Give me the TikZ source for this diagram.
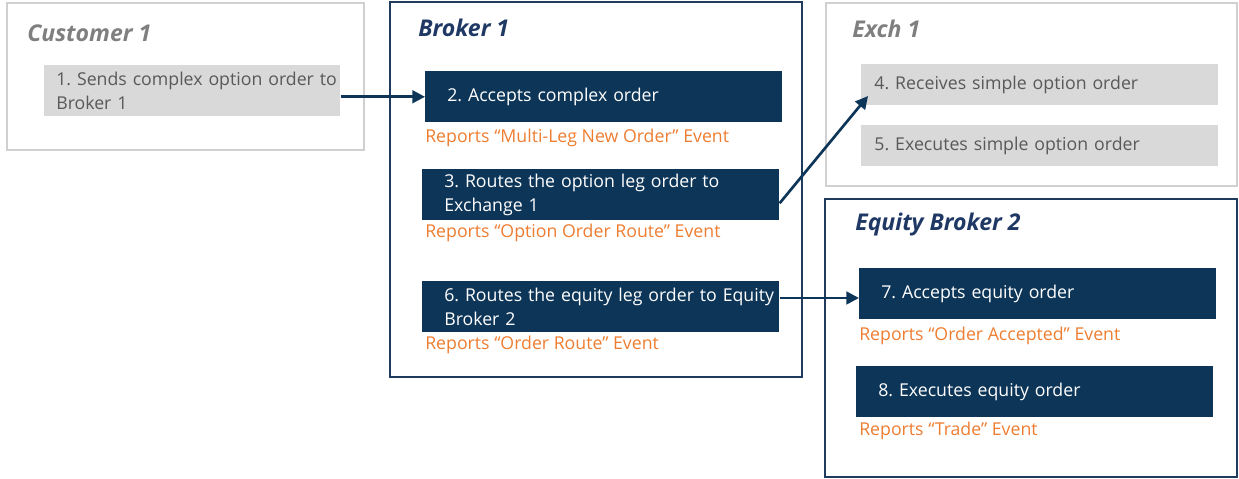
\documentclass[tikz,border=0pt]{standalone}
\usepackage{fontspec}
\setmainfont{Open Sans}
\usepackage{tikz}
\usetikzlibrary{arrows.meta}
\definecolor{navyfill}{HTML}{0D3558}
\definecolor{navyline}{HTML}{1F3C5E}
\definecolor{navytitle}{HTML}{1F3864}
\definecolor{boxgrey}{HTML}{D9D9D9}
\definecolor{textgrey}{HTML}{595959}
\definecolor{titlegrey}{HTML}{7F7F7F}
\definecolor{panelgrey}{HTML}{D0D0D0}
\definecolor{reportorange}{HTML}{ED7D31}
\frenchspacing
\tikzset{
  panel/.style={draw=panelgrey, line width=1pt},
  panelmain/.style={draw=navyline, line width=1.5pt},
  paneltitle/.style={anchor=west, inner sep=0pt, font=\fontsize{16.4}{19}\selectfont\bfseries\itshape},
  stepbox/.style={anchor=north west, inner xsep=0pt, inner ysep=0pt, align=left,
    minimum height=1.275cm, text width=8.925cm, execute at begin node={\leftskip=0.55cm}},
  navybox/.style={stepbox, fill=navyfill, text=white},
  greybox/.style={stepbox, fill=boxgrey, text=textgrey, execute at begin node={\leftskip=0.33cm}},
  report/.style={anchor=west, inner sep=0pt, text=reportorange},
  flow/.style={draw=navyfill, line width=1.9pt, -{Triangle[length=9pt, width=9pt]}}
}

\begin{document}
\begin{tikzpicture}[x=0.025cm, y=-0.025cm, font=\fontsize{12.6}{16.7}\selectfont]
		\useasboundingbox (0,0) rectangle (1239,479);
		% Rahmen
		\draw[panel] (7,3) rectangle (364,150);
		\draw[panelmain] (390,2) rectangle (802,377);
		\draw[panel] (826,3) rectangle (1237,186);
		\draw[panelmain] (825,199) rectangle (1237,477);
		\node[paneltitle, text=titlegrey] (tcust) at (27,33) {Customer 1};
		\node[paneltitle, text=navytitle] (tbrk1) at (418,28) {Broker 1};
		\node[paneltitle, text=titlegrey] (texch) at (852,29) {Exch 1};
		\node[paneltitle, text=navytitle] (tbrk2) at (855,225) {Equity Broker 2};
		% Schritte
		\node[greybox, text width=7.4cm, execute at begin node={\leftskip=0.3cm}] (b1) at (44,65) {1. Sends complex option order to\\Broker 1};
		\node[navybox] (b2) at (425,71) {2. Accepts complex order};
		\node[navybox] (b3) at (422,169) {3. Routes the option leg order to\\Exchange 1};
		\node[navybox] (b6) at (422,281) {6. Routes the equity leg order to Equity\\Broker 2};
		\node[greybox, minimum height=1.025cm] (b4) at (861,64) {4. Receives simple option order};
		\node[greybox, minimum height=1.025cm] (b5) at (861,125) {5. Executes simple option order};
		\node[navybox] (b7) at (859,268) {7. Accepts equity order};
		\node[navybox] (b8) at (856,366) {8. Executes equity order};
		% Meldungen
		\node[report] (r2) at (425,138) {Reports “Multi-Leg New Order” Event};
		\node[report] (r3) at (425,233) {Reports “Option Order Route” Event};
		\node[report] (r6) at (425,345) {Reports “Order Route” Event};
		\node[report] (r7) at (859,336) {Reports “Order Accepted” Event};
		\node[report] (r8) at (859,431) {Reports “Trade” Event};
		% Pfeile
		\draw[flow] (b1.east |- b2.west) -- (b2.west);
		\draw[flow] ([yshift=-6pt]b3.east) -- ([xshift=5pt, yshift=-8pt]b4.west);
		\draw[flow] ([yshift=-3pt]b7.west -| b6.east) -- ([yshift=-3pt]b7.west);
	\end{tikzpicture}
\end{document}
